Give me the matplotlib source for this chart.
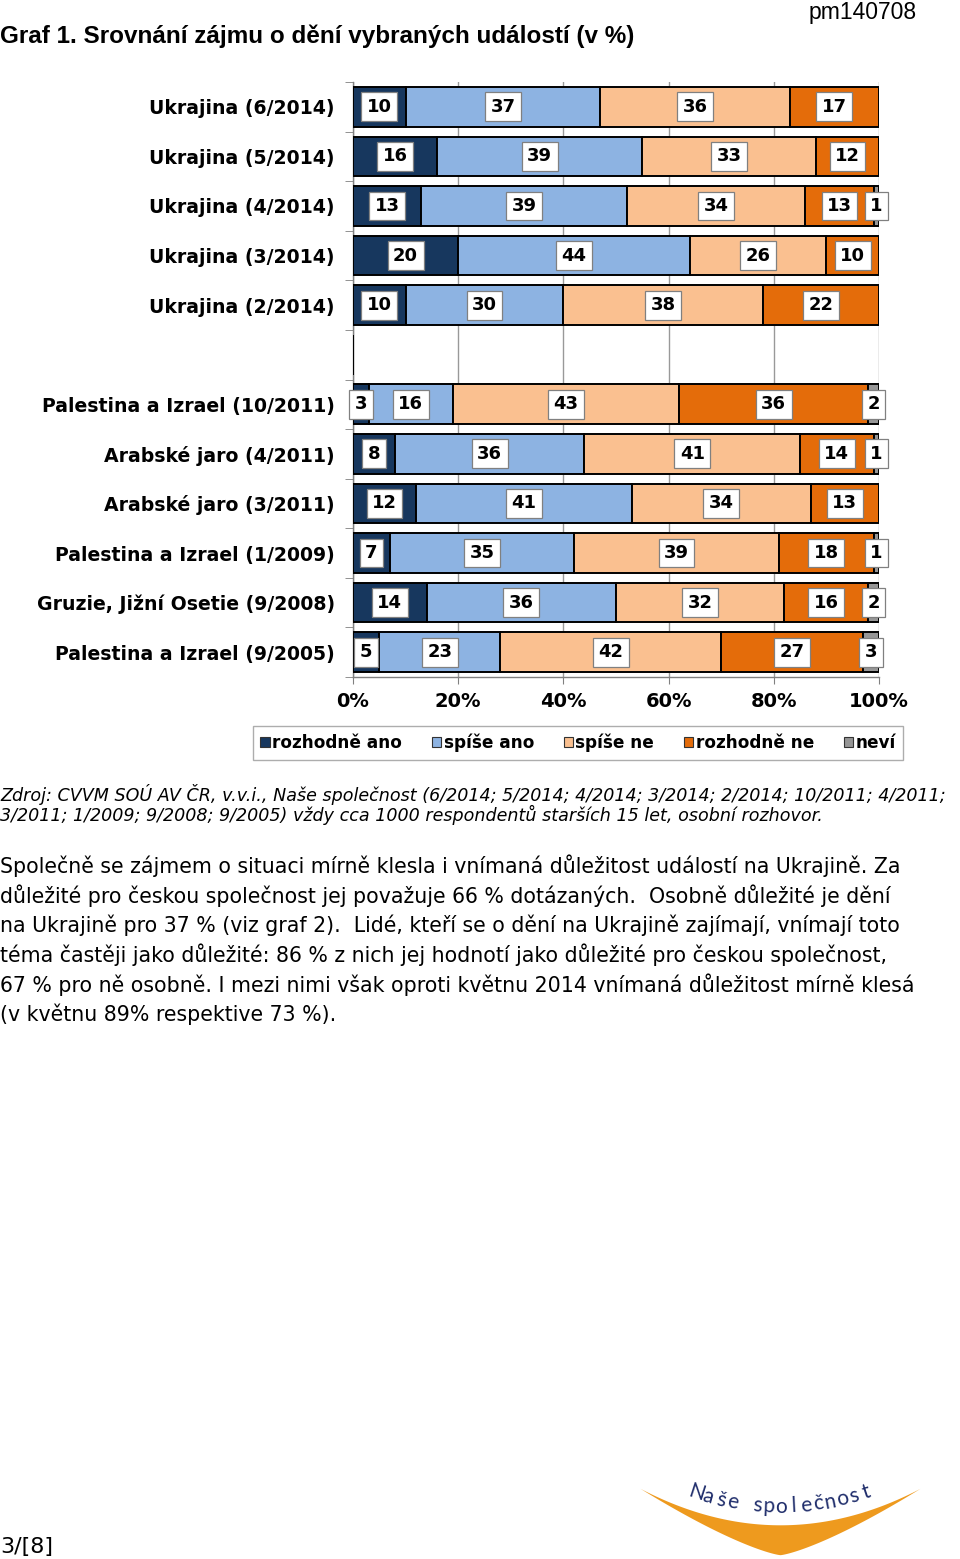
import numpy as np
import matplotlib
matplotlib.use("Agg")
import matplotlib.pyplot as plt
from matplotlib.patches import Patch

# ----------------------------
# Data
# ----------------------------
categories = [
    "Ukrajina (6/2014)",
    "Ukrajina (5/2014)",
    "Ukrajina (4/2014)",
    "Ukrajina (3/2014)",
    "Ukrajina (2/2014)",
    "",
    "Palestina a Izrael (10/2011)",
    "Arabské jaro (4/2011)",
    "Arabské jaro (3/2011)",
    "Palestina a Izrael (1/2009)",
    "Gruzie, Jižní Osetie (9/2008)",
    "Palestina a Izrael (9/2005)",
]
rozhodne_ano = [10, 16, 13, 20, 10, 0, 3, 8, 12, 7, 14, 5]
spise_ano = [37, 39, 39, 44, 30, 0, 16, 36, 41, 35, 36, 23]
spise_ne = [36, 33, 34, 26, 38, 0, 43, 41, 34, 39, 32, 42]
rozhodne_ne = [17, 12, 13, 10, 22, 0, 36, 14, 13, 18, 16, 27]
nevi = [0, 0, 1, 0, 0, 0, 2, 1, 0, 1, 2, 3]

series = [rozhodne_ano, spise_ano, spise_ne, rozhodne_ne, nevi]
series_names = ["rozhodně ano", "spíše ano", "spíše ne", "rozhodně ne", "neví"]
colors = ["#17375E", "#8DB3E2", "#FAC090", "#E46C0A", "#969696"]

x_ticks = [0, 20, 40, 60, 80, 100]

W, H = 960, 1559
fig = plt.figure(figsize=(W / 100, H / 100), dpi=100)


def fx(px):
    return px / W


def fy(py):
    return 1 - py / H


# ----------------------------
# Stacked bars
# ----------------------------
ax = fig.add_axes([fx(353), fy(677), fx(879) - fx(353), fy(82) - fy(677)])
y = np.arange(len(categories))
left = np.zeros(len(categories))
for vals, col in zip(series, colors):
    vals = np.array(vals, dtype=float)
    ax.barh(y, vals, left=left, height=0.8, color=col, edgecolor="black",
            linewidth=1.4, zorder=3)
    for yi, (l, v) in enumerate(zip(left, vals)):
        if v > 0:
            ax.text(l + v / 2, yi, f"{int(v)}", ha="center", va="center",
                    fontsize=13, fontweight="bold", color="black", zorder=5,
                    bbox=dict(boxstyle="square,pad=0.3", fc="white",
                              ec="#808080", lw=0.9))
    left += vals

ax.set_xlim(0, 100)
ax.set_ylim(len(categories) - 0.5, -0.5)
ax.set_xticks(x_ticks)
ax.set_xticklabels([f"{t}%" for t in x_ticks], fontsize=14, fontweight="bold")
ax.set_yticks(y)
ax.set_yticklabels(categories, fontsize=13.6, fontweight="bold")
ax.set_yticks(np.arange(-0.5, len(categories), 1.0), minor=True)
ax.tick_params(axis="y", which="major", length=0, pad=13)
ax.tick_params(axis="y", which="minor", length=6, color="#808080", direction="out")
ax.tick_params(axis="x", length=5, color="#808080", direction="out", pad=6)
ax.grid(axis="x", color="#999999", linewidth=1.0, zorder=0)
for s in ["top", "right"]:
    ax.spines[s].set_visible(False)
for s in ["left", "bottom"]:
    ax.spines[s].set_color("#808080")
    ax.spines[s].set_linewidth(1.0)

handles = [Patch(facecolor=c, edgecolor="#333333", linewidth=0.8) for c in colors]
leg = fig.legend(handles, series_names, loc="center",
                 bbox_to_anchor=(fx(578), fy(743)), ncol=5, frameon=True,
                 fancybox=False, edgecolor="#999999", handlelength=0.55,
                 handleheight=0.55, handletextpad=0.15, columnspacing=1.75,
                 borderpad=0.45, prop={"weight": "bold", "size": 12.2})
leg.get_frame().set_linewidth(1.0)

# ----------------------------
# Page texts
# ----------------------------
fig.text(fx(0), fy(36), "Graf 1. Srovnání zájmu o dění vybraných událostí (v %)",
         fontsize=17.5, fontweight="bold", family="Liberation Sans", ha="left", va="center")
fig.text(fx(917), fy(12), "pm140708", fontsize=16.5, family="Liberation Sans",
         ha="right", va="center")

source = [
    "Zdroj: CVVM SOÚ AV ČR, v.v.i., Naše společnost (6/2014; 5/2014; 4/2014; 3/2014; 2/2014; 10/2011; 4/2011;",
    "3/2011; 1/2009; 9/2008; 9/2005) vždy cca 1000 respondentů starších 15 let, osobní rozhovor.",
]
for i, line in enumerate(source):
    fig.text(fx(0), fy(795 + 20 * i), line, fontsize=12.6, style="italic",
             ha="left", va="center")

body = [
    "Společně se zájmem o situaci mírně klesla i vnímaná důležitost událostí na Ukrajině. Za",
    "důležité pro českou společnost jej považuje 66 % dotázaných.  Osobně důležité je dění",
    "na Ukrajině pro 37 % (viz graf 2).  Lidé, kteří se o dění na Ukrajině zajímají, vnímají toto",
    "téma častěji jako důležité: 86 % z nich jej hodnotí jako důležité pro českou společnost,",
    "67 % pro ně osobně. I mezi nimi však oproti květnu 2014 vnímaná důležitost mírně klesá",
    "(v květnu 89% respektive 73 %).",
]
for i, line in enumerate(body):
    fig.text(fx(0), fy(866 + 29.6 * i), line, fontsize=14.8, ha="left", va="center")

fig.text(fx(0), fy(1547), "3/[8]", fontsize=16, ha="left", va="center")

# ----------------------------
# Logo
# ----------------------------
lax = fig.add_axes([fx(640), fy(1558), fx(920) - fx(640), fy(1475) - fy(1558)])
t = np.linspace(0, 1, 400)
u = 2 * t - 1
top = 0.40 + 0.44 * u ** 2
bot = 0.04 + 0.80 * np.abs(u) ** 1.3
lax.fill_between(t, bot, top, where=top >= bot, color="#EE9A1E", lw=0)
logo_text = "Naše společnost"
xs = np.linspace(0.19, 0.82, len(logo_text))
for ch, xx in zip(logo_text, xs):
    uu = 2 * xx - 1
    yy = 0.50 + 0.44 * uu ** 2
    ang = np.degrees(np.arctan(0.44 * 2 * uu * 2 * (83 / 280)))
    lax.text(xx, yy, ch, fontsize=15, color="#1F2D6B", ha="center", va="bottom",
             rotation=ang, rotation_mode="anchor", family="Lato")
lax.set_xlim(0, 1)
lax.set_ylim(0, 1)
lax.axis("off")

fig.savefig("out.png", dpi=100)
